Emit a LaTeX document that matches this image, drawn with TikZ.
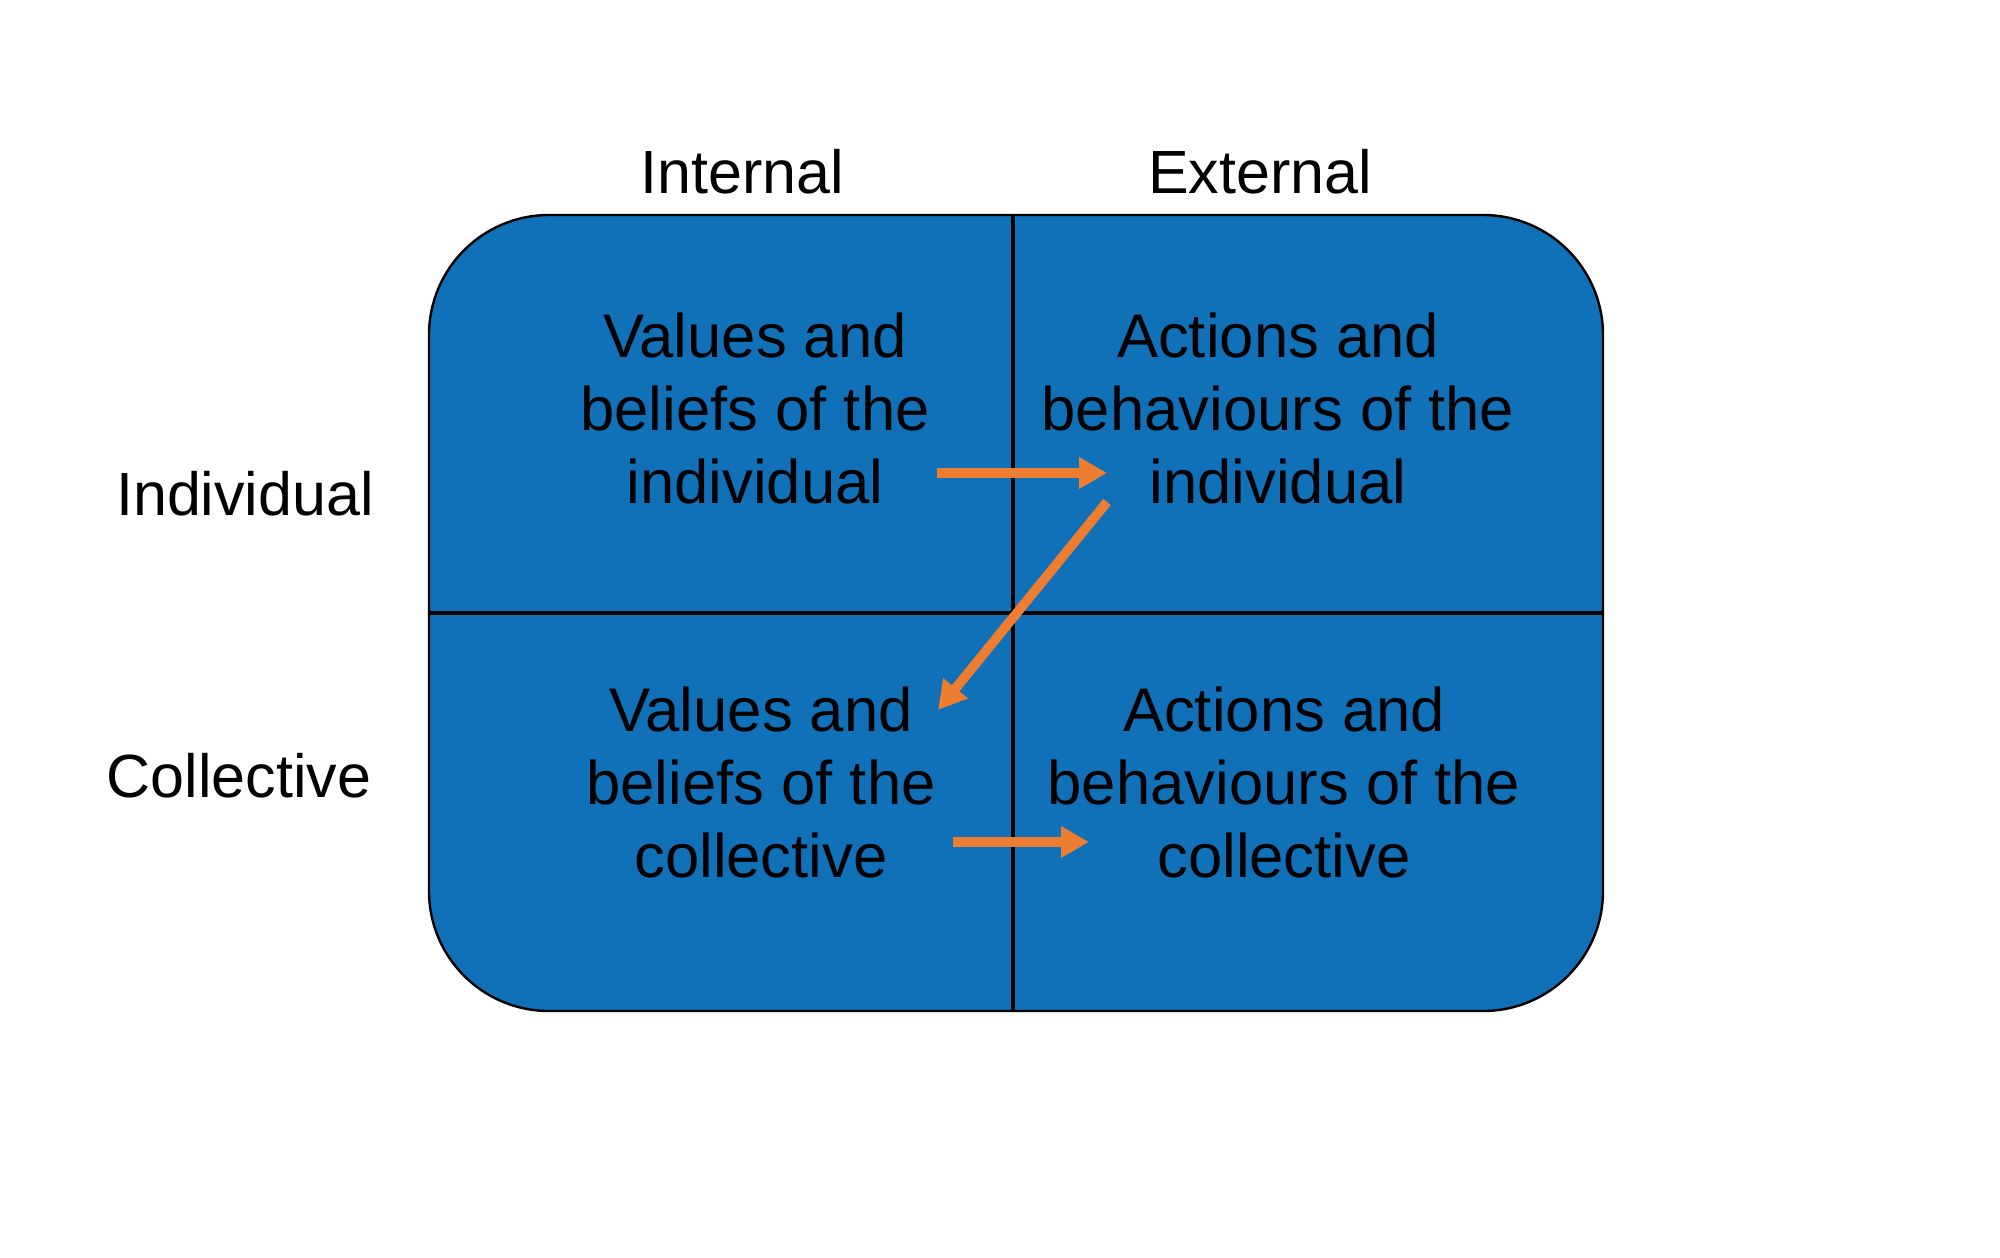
\documentclass[tikz,border=0pt]{standalone}
\usepackage{fontspec}
\setmainfont{Liberation Sans}
\usetikzlibrary{arrows.meta}
\definecolor{quadblue}{HTML}{1070B8}
\definecolor{arrorange}{HTML}{ED7D31}
\tikzset{
  quadtext/.style={align=center, font=\fontsize{30.8pt}{36.5pt}\selectfont, text=black, inner sep=0pt},
  axislabel/.style={font=\fontsize{30.5pt}{35pt}\selectfont, text=black, inner sep=0pt},
  divider/.style={draw=black, line width=2.4pt},
  flow/.style={draw=arrorange, line width=4.8pt, -{Triangle[length=14pt,width=15pt]}}
}
\begin{document}
\begin{tikzpicture}[x=0.5pt,y=-0.5pt]
\useasboundingbox (0,0) rectangle (2000,1257);
\fill[white] (0,0) rectangle (2000,1257);
% outer rounded box
\draw[fill=quadblue, draw=black, line width=1.2pt, rounded corners=60pt] (429,215) rectangle (1603,1011);
\draw[divider] (1013,215) -- (1013,1011);
\draw[divider] (429,613) -- (1603,613);
% axis labels
\node[axislabel] (internal) at (742,172) {Internal};
\node[axislabel] (external) at (1260,172) {External};
\node[axislabel] (individual) at (245,494) {Individual};
\node[axislabel] (collective) at (239,776) {Collective};
% quadrant texts
\node[quadtext] (vbi) at (755,408) {Values and\\beliefs of the\\individual};
\node[quadtext] (abi) at (1278,408) {Actions and\\behaviours of the\\individual};
\node[quadtext] (vbc) at (761,782) {Values and\\beliefs of the\\collective};
\node[quadtext] (abc) at (1284,782) {Actions and\\behaviours of the\\collective};
% arrow endpoints
\coordinate (a1s) at (937,473);
\coordinate (a1e) at (1107,473);
\coordinate (a2s) at (1107,502);
\coordinate (a2e) at (938,710);
\coordinate (a3s) at (953,842);
\coordinate (a3e) at (1089,842);
\draw[flow] (a1s) -- (a1e);
\draw[flow] (a2s) -- (a2e);
\draw[flow] (a3s) -- (a3e);
\end{tikzpicture}
\end{document}
